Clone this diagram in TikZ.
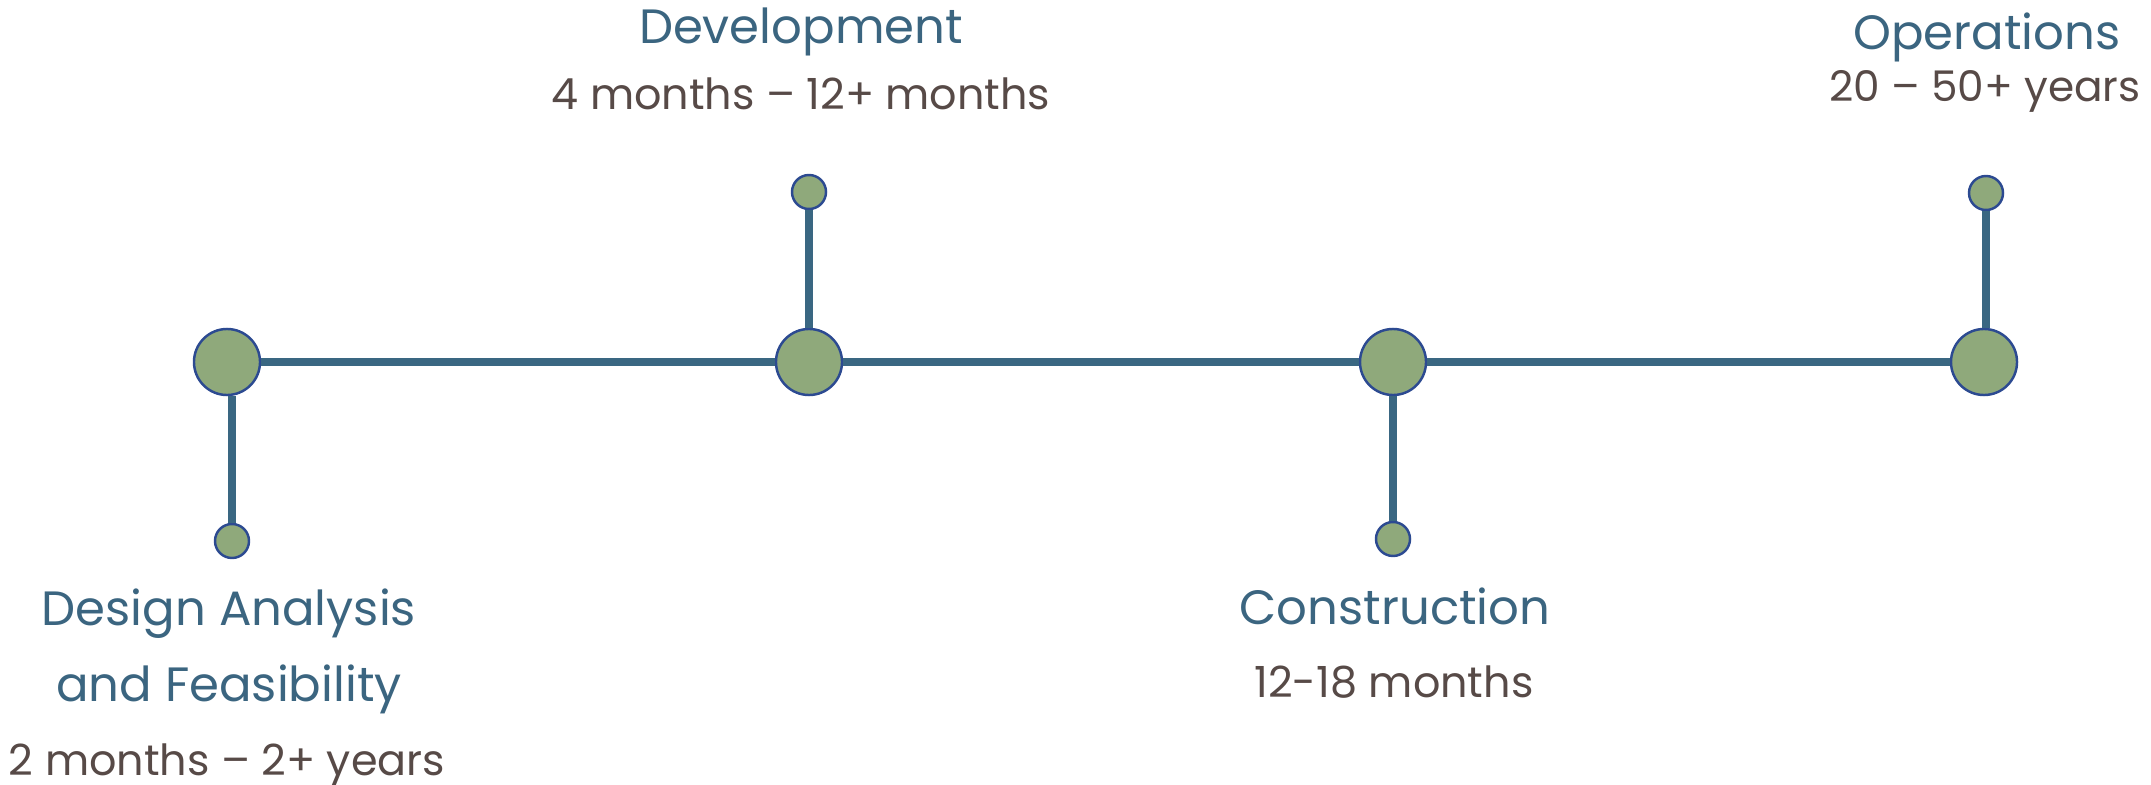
\documentclass[tikz,border=0pt]{standalone}
\usepackage{fontspec}
\setmainfont{Poppins}
\usetikzlibrary{positioning}
\definecolor{lineblue}{HTML}{3A6782}
\definecolor{ringblue}{HTML}{2C4A91}
\definecolor{sage}{HTML}{8FA97B}
\definecolor{headblue}{HTML}{3B6580}
\definecolor{spangray}{HTML}{574A47}

\begin{document}
\begin{tikzpicture}[x=0.01cm,y=-0.01cm,
  big/.style={circle,draw=ringblue,fill=sage,line width=0.7pt,minimum size=0.66cm,inner sep=0pt},
  small/.style={circle,draw=ringblue,fill=sage,line width=0.7pt,minimum size=0.34cm,inner sep=0pt},
  tl/.style={draw=lineblue,line width=2.2pt},
  head/.style={text=headblue,font=\fontsize{13.7}{16}\selectfont,anchor=base,inner sep=0pt},
  span/.style={text=spangray,font=\fontsize{12.2}{15}\selectfont,anchor=base,inner sep=0pt}]
\useasboundingbox (0,0) rectangle (2151,785);
% main milestones
\node[big] (des) at (227,362) {};
\node[big] (dev) at (809,362) {};
\node[big] (con) at (1393,362) {};
\node[big] (ops) at (1984,362) {};
% stems
\node[small] (desS) at (232,541) {};
\node[small] (devS) at (809,192) {};
\node[small] (conS) at (1393,539) {};
\node[small] (opsS) at (1986,193) {};
\draw[tl] (des) -- (dev);
\draw[tl] (dev) -- (con);
\draw[tl] (con) -- (ops);
\draw[tl] (desS) -- (desS |- des.south);
\draw[tl] (devS) -- (dev);
\draw[tl] (conS) -- (con);
\draw[tl] (opsS) -- (opsS |- ops.north);
% labels
\node[head] (desT1) at (229,625) {Design Analysis};
\node[head] (desT2) at (229,701) {and Feasibility};
\node[span] (desD) at (227,775) {2 months – 2+ years};
\node[head] (devT) at (801,44) {Development};
\node[span] (devD) at (801,110) {4 months – 12+ months};
\node[head] (conT) at (1395,624) {Construction};
\node[span] (conD) at (1394,697) {12-18 months};
\node[head] (opsT) at (1987,50) {Operations};
\node[span, font=\fontsize{12}{15}\selectfont] (opsD) at (1985,102) {20 – 50+ years};
\end{tikzpicture}
\end{document}
